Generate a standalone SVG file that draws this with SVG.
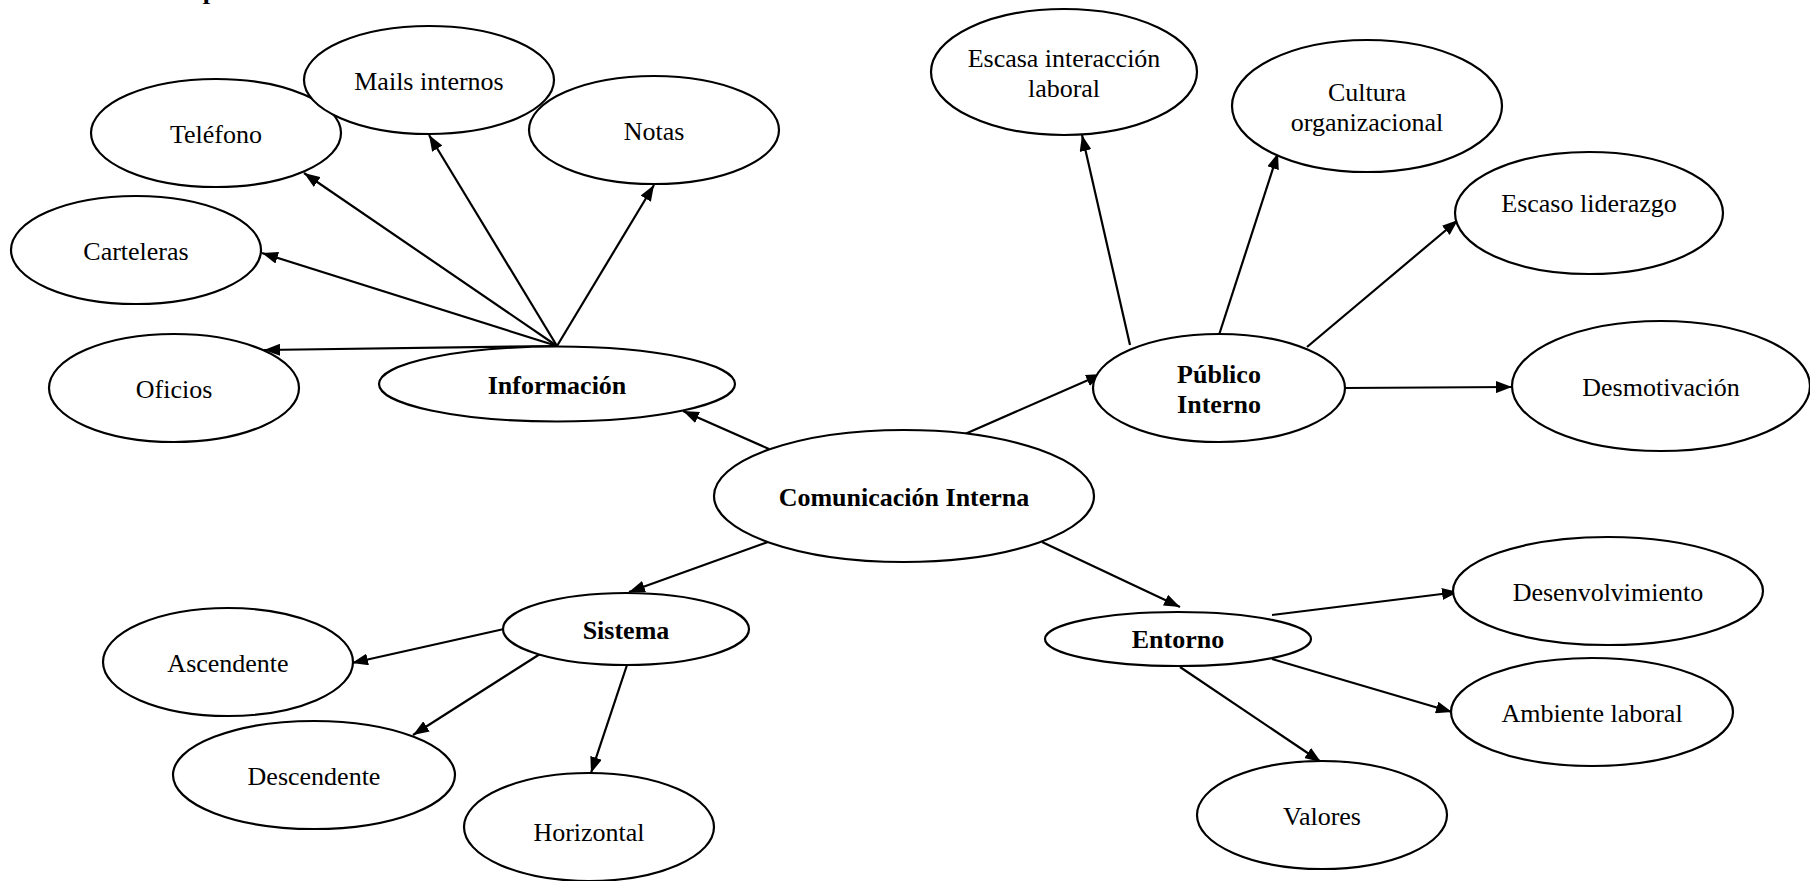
<svg xmlns="http://www.w3.org/2000/svg" width="1810" height="881" viewBox="0 0 1810 881">
<defs>
<marker id="arr" viewBox="0 0 16 12" refX="16" refY="6" markerWidth="16" markerHeight="12" markerUnits="userSpaceOnUse" orient="auto">
<path d="M0,0 L16,6 L0,12 z" fill="#000"/>
</marker>
</defs>
<style>
ellipse{fill:#fff;stroke:#000;stroke-width:2.2}
text{font-family:"Liberation Serif","Times New Roman",serif;font-size:26px;fill:#000;text-anchor:middle}
.b{font-weight:bold}
#edges line{stroke:#000;stroke-width:2.2;marker-end:url(#arr)}
</style>
<rect width="1810" height="881" fill="#fff"/>
<text class="b" x="210" y="-1" font-size="24">p</text>
<g id="edges">
<line x1="557" y1="346" x2="264" y2="350"/>
<line x1="557" y1="346" x2="262" y2="253"/>
<line x1="557" y1="346" x2="304" y2="173"/>
<line x1="557" y1="346" x2="429" y2="135"/>
<line x1="557" y1="346" x2="654" y2="185"/>
<line x1="769" y1="449" x2="683" y2="411"/>
<line x1="965" y1="434" x2="1102" y2="374"/>
<line x1="1130" y1="345" x2="1082" y2="135"/>
<line x1="1219" y1="335" x2="1278" y2="153"/>
<line x1="1307" y1="347" x2="1458" y2="220"/>
<line x1="1345" y1="388" x2="1512" y2="387"/>
<line x1="768" y1="542" x2="629" y2="592"/>
<line x1="1042" y1="542" x2="1180" y2="607"/>
<line x1="504" y1="629" x2="352" y2="663"/>
<line x1="540" y1="654" x2="413" y2="735"/>
<line x1="627" y1="665" x2="591" y2="773"/>
<line x1="1272" y1="615" x2="1458" y2="592"/>
<line x1="1272" y1="659" x2="1452" y2="712"/>
<line x1="1180" y1="667" x2="1321" y2="762"/>
</g>
<g id="n-comunicacion"><ellipse cx="904" cy="496" rx="190" ry="66"/><text class="b" x="904" y="506">Comunicación Interna</text></g>
<g id="n-informacion"><ellipse cx="557" cy="384" rx="178" ry="37.5"/><text class="b" x="557" y="394">Información</text></g>
<g id="n-oficios"><ellipse cx="174" cy="388" rx="125" ry="54"/><text x="174" y="398">Oficios</text></g>
<g id="n-carteleras"><ellipse cx="136" cy="250" rx="125" ry="54"/><text x="136" y="260">Carteleras</text></g>
<g id="n-telefono"><ellipse cx="216" cy="133" rx="125" ry="54"/><text x="216" y="143">Teléfono</text></g>
<g id="n-mails"><ellipse cx="429" cy="80" rx="125" ry="54"/><text x="429" y="90">Mails internos</text></g>
<g id="n-notas"><ellipse cx="654" cy="130" rx="125" ry="54"/><text x="654" y="140">Notas</text></g>
<g id="n-escasa"><ellipse cx="1064" cy="72" rx="133" ry="63"/><text x="1064" y="67">Escasa interacción</text><text x="1064" y="97">laboral</text></g>
<g id="n-cultura"><ellipse cx="1367" cy="106" rx="135" ry="66"/><text x="1367" y="101">Cultura</text><text x="1367" y="131">organizacional</text></g>
<g id="n-liderazgo"><ellipse cx="1589" cy="213" rx="134" ry="61"/><text x="1589" y="212">Escaso liderazgo</text></g>
<g id="n-publico"><ellipse cx="1219" cy="388" rx="126" ry="54"/><text class="b" x="1219" y="383">Público</text><text class="b" x="1219" y="413">Interno</text></g>
<g id="n-desmotivacion"><ellipse cx="1661" cy="386" rx="149" ry="65"/><text x="1661" y="396">Desmotivación</text></g>
<g id="n-sistema"><ellipse cx="626" cy="629" rx="123" ry="36"/><text class="b" x="626" y="639">Sistema</text></g>
<g id="n-ascendente"><ellipse cx="228" cy="662" rx="125" ry="54"/><text x="228" y="672">Ascendente</text></g>
<g id="n-descendente"><ellipse cx="314" cy="775" rx="141" ry="54"/><text x="314" y="785">Descendente</text></g>
<g id="n-horizontal"><ellipse cx="589" cy="827" rx="125" ry="54"/><text x="589" y="841">Horizontal</text></g>
<g id="n-entorno"><ellipse cx="1178" cy="639" rx="133" ry="27"/><text class="b" x="1178" y="648">Entorno</text></g>
<g id="n-desenvolvimiento"><ellipse cx="1608" cy="591" rx="155" ry="54"/><text x="1608" y="601">Desenvolvimiento</text></g>
<g id="n-ambiente"><ellipse cx="1592" cy="712" rx="141" ry="54"/><text x="1592" y="722">Ambiente laboral</text></g>
<g id="n-valores"><ellipse cx="1322" cy="815" rx="125" ry="54"/><text x="1322" y="825">Valores</text></g>
</svg>
